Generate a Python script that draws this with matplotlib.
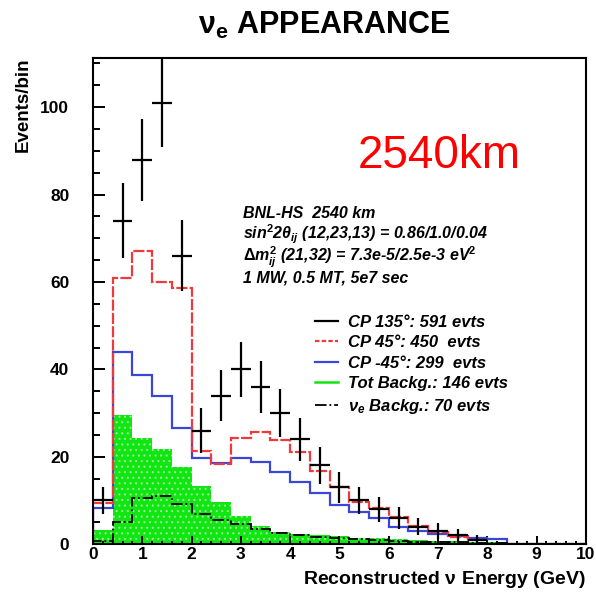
import numpy as np
import matplotlib
matplotlib.use('Agg')
import matplotlib.pyplot as plt
from matplotlib.lines import Line2D
from matplotlib.ticker import MultipleLocator

plt.rcParams['font.family'] = ['Liberation Sans', 'DejaVu Sans']
plt.rcParams['mathtext.fontset'] = 'custom'
plt.rcParams['mathtext.rm'] = 'Liberation Sans:bold'
plt.rcParams['mathtext.it'] = 'Liberation Sans:italic:bold'
plt.rcParams['mathtext.bf'] = 'Liberation Sans:bold'
plt.rcParams['hatch.linewidth'] = 0.7

# 0.4 GeV bins from 0 to 10 GeV
bin_width = 0.4
edges = np.arange(0, 10 + bin_width / 2, bin_width)
centers = edges[:-1] + bin_width / 2

# events per bin
cp135 = [10, 74, 88, 101, 66, 26, 34, 40, 36, 30, 24, 18, 13, 10, 8, 6, 4, 3, 2, 1,
         0, 0, 0, 0, 0]
cp45 = [9.5, 61, 67, 60, 58.7, 21.3, 18.3, 24.4, 25.6, 23.8, 21.1, 16.8, 13, 9.7, 8.2,
        6.3, 4.2, 2.8, 1.6, 0, 0, 0, 0, 0, 0]
cpm45 = [8.2, 44, 38.7, 33.9, 26.5, 19.8, 18.6, 19.8, 18.8, 16.6, 14.3, 11.6, 8.9, 7.4,
         5.9, 4.0, 3.0, 2.4, 1.8, 1.4, 1.1, 0, 0, 0, 0]
tot_bkg = [3.2, 29.5, 24.4, 21.8, 17.6, 13.4, 9.6, 6.5, 4.1, 2.8, 2.3, 2.0, 1.8, 1.5,
           1.3, 1.1, 1.0, 0.8, 0.7, 0.5, 0.4, 0.3, 0, 0, 0]
nue_bkg = [0.8, 5.1, 10.5, 11.1, 9.3, 7.0, 5.5, 4.7, 3.4, 2.5, 2.0, 1.7, 1.4, 1.2, 1.0,
           0.8, 0.6, 0.5, 0.4, 0.3, 0.2, 0.1, 0, 0, 0]

legend_labels = ['CP 135°: 591 evts', 'CP 45°: 450  evts', 'CP -45°: 299  evts',
                 'Tot Backg.: 146 evts', r'$\nu_e$ Backg.: 70 evts']

red = '#ee3a3a'
blue = '#3a46d8'
green = '#12e612'

fig = plt.figure(figsize=(5.96, 5.96), dpi=100)
ax = fig.add_axes([0.156, 0.087, 0.827, 0.816])

# total background: green with a pale dot pattern
ax.bar(centers, tot_bkg, width=bin_width, color=green, edgecolor='#9ef59e',
       linewidth=0, hatch='...', zorder=1)
ax.stairs(nue_bkg, edges, baseline=0, color='black', lw=1.3, ls='-.', zorder=3)
ax.stairs(cpm45, edges, baseline=0, color=blue, lw=1.6, zorder=2)
ax.stairs(cp45, edges, baseline=0, color=red, lw=1.6, ls=(0, (5, 1)), zorder=2)

data = np.array(cp135, dtype=float)
has = data > 0
ax.errorbar(centers[has], data[has], xerr=bin_width / 2, yerr=np.sqrt(data[has]),
            fmt='none', ecolor='black', elinewidth=1.6, capsize=0, zorder=4)

ax.set_xlim(0, 10)
ax.set_ylim(0, 111.3)
ax.xaxis.set_major_locator(MultipleLocator(1))
ax.xaxis.set_minor_locator(MultipleLocator(0.2))
ax.yaxis.set_major_locator(MultipleLocator(20))
ax.yaxis.set_minor_locator(MultipleLocator(5))
ax.tick_params(which='both', direction='in', top=False, right=False, width=1.4,
               labelsize=12.5)
ax.tick_params(axis='y', which='major', length=8.4, pad=17)
ax.tick_params(axis='y', which='minor', length=4.8)
ax.tick_params(axis='x', which='major', length=5.5, pad=2)
ax.tick_params(axis='x', which='minor', length=2.5)
for lab in ax.get_xticklabels() + ax.get_yticklabels():
    lab.set_fontweight('bold')
for sp in ax.spines.values():
    sp.set_linewidth(1.5)

ax.set_ylabel('Events/bin', loc='top', fontsize=13.5, fontweight='bold', labelpad=6)
ax.set_xlabel(r'Reconstructed $\mathrm{\nu}$ Energy (GeV)', loc='right',
              fontsize=14, fontweight='bold', labelpad=5)

fig.text(0.545, 0.958, r'$\mathrm{\nu_e}$ APPEARANCE', ha='center', va='center',
         fontsize=22, fontweight='bold')

ax.text(0.702, 0.798, '2540km', transform=ax.transAxes, ha='center', va='center',
        fontsize=33, color='#ff0000')

info = ['BNL-HS  2540 km',
        r'sin$^2$2$\theta_{ij}$ (12,23,13) = 0.86/1.0/0.04',
        r'$\Delta m_{ij}^2$ (21,32) = 7.3e-5/2.5e-3 eV$^2$',
        '1 MW, 0.5 MT, 5e7 sec']
info_y = [0.679, 0.638, 0.590, 0.548]
for line, yy in zip(info, info_y):
    ax.text(0.304, yy, line, transform=ax.transAxes, ha='left',
            va='center', fontsize=11.5, fontweight='bold', fontstyle='italic')

handles = [Line2D([], [], color='black', lw=1.6),
           Line2D([], [], color=red, lw=1.6, ls=(0, (2, 1))),
           Line2D([], [], color=blue, lw=1.6),
           Line2D([], [], color=green, lw=1.8),
           Line2D([], [], color='black', lw=1.3, ls='-.')]
leg = ax.legend(handles, legend_labels, loc='upper left', bbox_to_anchor=(0.45, 0.472),
                frameon=False, borderpad=0, borderaxespad=0, handlelength=1.4,
                handletextpad=0.6, labelspacing=0.33,
                prop={'size': 12, 'weight': 'bold', 'style': 'italic'})

fig.savefig('out.png', dpi=100)
